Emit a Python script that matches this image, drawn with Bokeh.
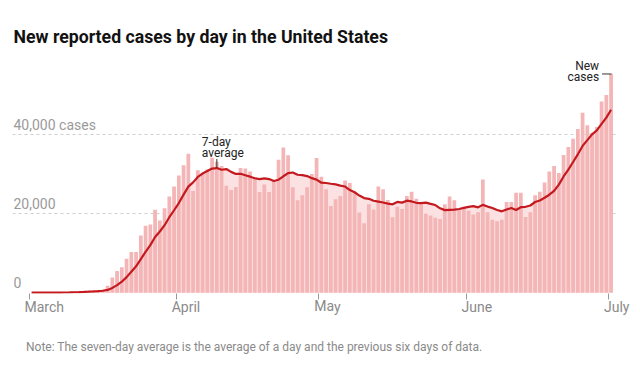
import numpy as np
import pandas as pd
from bokeh.plotting import figure
from bokeh.layouts import column
from bokeh.models import Range1d, FixedTicker, ColumnDataSource, LinearAxis
from bokeh.core.properties import value
from bokeh.embed import file_html
from bokeh.resources import INLINE

# ---------------- data ----------------
start_date = "2020-03-01"
cases = [
    # March
    20, 25, 30, 45, 70, 100, 110, 140, 200, 300,
    350, 450, 500, 550, 650, 800, 1800, 3900, 5500, 6500,
    8600, 10300, 10300, 14500, 17000, 17300, 21000, 18300, 21400, 24400, 26900,
    # April
    29700, 32300, 35200, 25800, 31000, 30400, 31300, 34200, 33200, 32100,
    27100, 26000, 26800, 31600, 31500, 30700, 29300, 25500, 27400, 25500,
    28300, 33700, 36800, 34800, 26700, 23400, 24700, 26700, 30100, 34100,
    # May
    29400, 26200, 22000, 23700, 24500, 28400, 27800, 25600, 20300, 17600,
    22400, 21100, 26900, 26200, 23500, 19100, 21800, 21200, 24500, 25600,
    23800, 23000, 20000, 19600, 19000, 18700, 22400, 24400, 23400, 21000, 21700,
    # June
    20800, 19800, 20400, 28700, 20400, 18500, 18100, 18500, 23000, 23000,
    25300, 25300, 19200, 20400, 24700, 25600, 27900, 30700, 32100, 30300,
    34900, 36900, 39000, 41500, 45600, 42400, 40500, 42000, 48400, 50100,
    # July
    55400,
]
month_starts = ["2020-03-01", "2020-04-01", "2020-05-01", "2020-06-01", "2020-07-01"]
month_labels = ["March", "April", "May", "June", "July"]
y_ticks = [0, 20000, 40000]
y_labels = ["0", "20,000", "40,000 cases"]

title_text = "New reported cases by day in the United States"
note_text = "Note: The seven-day average is the average of a day and the previous six days of data."

# ---------------- derived ----------------
day = np.arange(len(cases))
xc = day + 0.5
avg = pd.Series(cases, dtype=float).rolling(7, min_periods=1).mean().to_numpy()
t0 = pd.Timestamp(start_date)
tick_pos = [(pd.Timestamp(m) - t0).days for m in month_starts]
LABEL_SHIFT = -1  # month names start a little before their tick
label_pos = [t + LABEL_SHIFT for t in tick_pos]

BAR = "#f4b5b6"
AREA = "#fbe1e1"
LINE = "#c41a1f"
FONT = "Roboto"

W = 630
X0, X1 = -3.516, 123.64
Y0, Y1 = -177, 74000

p = figure(width=W, height=333, output_backend="svg", toolbar_location=None,
           title=None, x_range=Range1d(X0, X1), y_range=Range1d(Y0, Y1),
           min_border_left=12, min_border_right=W - 616, min_border_top=0,
           min_border_bottom=40)
p.outline_line_color = None
p.background_fill_color = "white"
p.border_fill_color = "white"

src = ColumnDataSource(dict(x=xc, cases=cases, avg=avg))

p.varea(x="x", y1=0, y2="avg", source=src, fill_color=AREA)
p.vbar(x="x", top="cases", width=0.79, source=src, fill_color=BAR, line_color=None)
p.line(x="x", y="avg", source=src, line_color=LINE, line_width=2.2)

# grid
p.xgrid.visible = False
p.ygrid.ticker = FixedTicker(ticks=y_ticks[1:])
p.ygrid.grid_line_color = "#cfcfcf"
p.ygrid.grid_line_dash = "3 3"
p.ygrid.grid_line_width = 1
p.yaxis.visible = False

# x axis: tick marks at month starts
ax = p.xaxis[0]
ax.ticker = FixedTicker(ticks=tick_pos)
ax.major_label_overrides = {t: "" for t in tick_pos}
ax.major_label_text_font_size = "0px"
ax.major_label_standoff = 0
ax.axis_line_color = None
ax.major_tick_line_color = "#999999"
ax.major_tick_in = 0
ax.major_tick_out = 6
ax.minor_tick_line_color = None

# x axis: month names, left-aligned
lab = LinearAxis(ticker=FixedTicker(ticks=label_pos),
                 major_label_overrides={t: l for t, l in zip(label_pos, month_labels)})
lab.axis_line_color = None
lab.major_tick_line_color = None
lab.major_tick_in = 0
lab.major_tick_out = 0
lab.minor_tick_line_color = None
lab.major_label_orientation = -1e-6
lab.major_label_standoff = 7
lab.major_label_text_font = FONT
lab.major_label_text_font_size = "14px"
lab.major_label_text_color = "#8a8a8a"
p.add_layout(lab, "below")

# y labels
p.text(x=X0, y=y_ticks, text=y_labels, x_offset=1, y_offset=-10,
       text_font=value(FONT), text_font_size="14px", text_color="#9a9a9a",
       text_align="left", text_baseline="alphabetic")

# title
p.text(x=[X0], y=[Y1], text=[title_text], x_offset=1, y_offset=36,
       text_font=value(FONT), text_font_style="bold",
       text_font_size="17.7px", text_color="#121212",
       text_align="left", text_baseline="alphabetic")

# 7-day average annotation (peak of the April wave)
k = int(np.argmax(avg[:tick_pos[2]]))
p.segment(x0=[xc[k]], y0=[avg[k]], x1=[xc[k]], y1=[avg[k] + 2300],
          line_color="#333333", line_width=1)
p.text(x=[xc[k], xc[k]], y=[avg[k], avg[k]], text=["7-day", "average"],
       x_offset=-15, y_offset=[-26, -15],
       text_font=value(FONT), text_font_size="12px", text_color="#222222",
       text_align="left", text_baseline="alphabetic")

# New cases annotation
last = len(cases) - 1
p.segment(x0=[xc[last] - 1.9], y0=[cases[last]], x1=[xc[last] + 0.1], y1=[cases[last]],
          line_color="#333333", line_width=1)
p.text(x=[xc[last], xc[last]], y=[cases[last], cases[last]], text=["New", "cases"],
       x_offset=-12, y_offset=[-8, 3.5],
       text_font=value(FONT), text_font_size="12px", text_color="#222222",
       text_align="right", text_baseline="alphabetic")

# note (separate strip below the chart)
n = figure(width=W, height=38, output_backend="svg", toolbar_location=None,
           title=None, x_range=Range1d(0, 1), y_range=Range1d(0, 1),
           x_axis_type=None, y_axis_type=None,
           min_border_left=0, min_border_right=0, min_border_top=0, min_border_bottom=0)
n.outline_line_color = None
n.xgrid.visible = False
n.ygrid.visible = False
n.text(x=[0], y=[1], text=[note_text], x_offset=13.5, y_offset=13,
       text_font=value(FONT), text_font_size="12px", text_color="#8a8a8a",
       text_align="left", text_baseline="alphabetic")

layout = column(p, n, spacing=0)
open("out.html", "w").write(file_html(layout, INLINE))
